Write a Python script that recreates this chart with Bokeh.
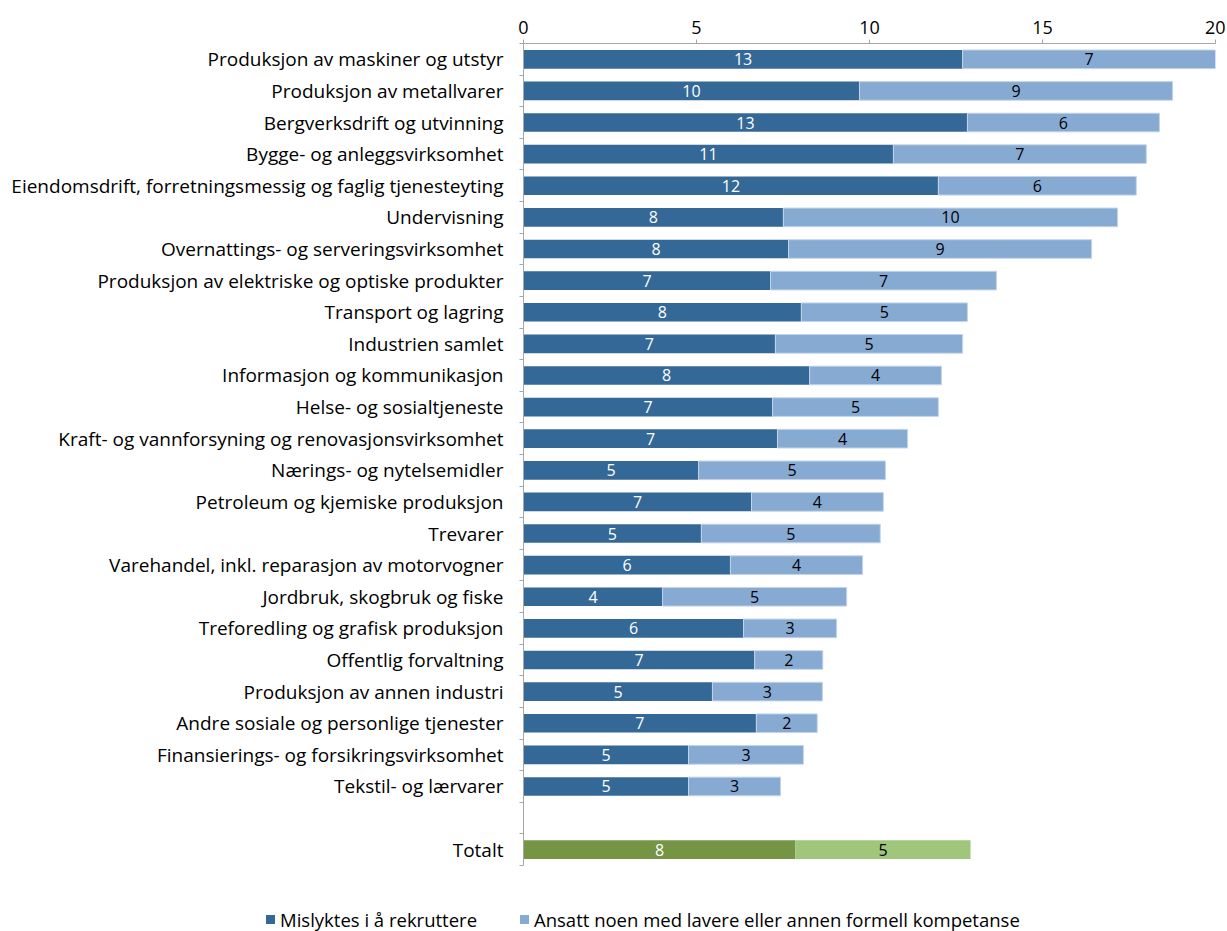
from bokeh.plotting import figure
from bokeh.layouts import column
from bokeh.models import Range1d, FixedTicker, ColumnDataSource, Div
from bokeh.core.properties import value
from bokeh.embed import file_html
from bokeh.resources import INLINE

categories = [
    "Produksjon av maskiner og utstyr",
    "Produksjon av metallvarer",
    "Bergverksdrift og utvinning",
    "Bygge- og anleggsvirksomhet",
    "Eiendomsdrift, forretningsmessig og faglig tjenesteyting",
    "Undervisning",
    "Overnattings- og serveringsvirksomhet",
    "Produksjon av elektriske og optiske produkter",
    "Transport og lagring",
    "Industrien samlet",
    "Informasjon og kommunikasjon",
    "Helse- og sosialtjeneste",
    "Kraft- og vannforsyning og renovasjonsvirksomhet",
    "Nærings- og nytelsemidler",
    "Petroleum og kjemiske produksjon",
    "Trevarer",
    "Varehandel, inkl. reparasjon av motorvogner",
    "Jordbruk, skogbruk og fiske",
    "Treforedling og grafisk produksjon",
    "Offentlig forvaltning",
    "Produksjon av annen industri",
    "Andre sosiale og personlige tjenester",
    "Finansierings- og forsikringsvirksomhet",
    "Tekstil- og lærvarer",
]
mislyktes = [12.69, 9.71, 12.83, 10.69, 11.99, 7.51, 7.66, 7.14, 8.03, 7.28, 8.27, 7.20,
             7.34, 5.06, 6.59, 5.14, 5.98, 4.02, 6.36, 6.68, 5.46, 6.73, 4.77, 4.77]
ansatt = [7.31, 9.05, 5.55, 7.31, 5.72, 9.66, 8.76, 6.53, 4.80, 5.41, 3.81, 4.79,
          3.76, 5.40, 3.81, 5.17, 3.82, 5.32, 2.69, 1.97, 3.18, 1.76, 3.32, 2.66]
total_label = "Totalt"
total_mislyktes = 7.86
total_ansatt = 5.06
series_names = ["Mislyktes i å rekruttere", "Ansatt noen med lavere eller annen formell kompetanse"]
x_ticks = [0, 5, 10, 15, 20]

FONT = "Open Sans"
DARK, LIGHT = "#346896", "#87aad3"
GDARK, GLIGHT = "#759444", "#a0c67b"

n = len(categories)
ys = list(range(n))
total_y = n + 1

p = figure(width=1225, height=875, output_backend="svg", toolbar_location=None,
           x_range=Range1d(0, 20), y_range=Range1d(total_y + 0.5, -0.5),
           x_axis_location="above",
           min_border_left=523, min_border_top=43, min_border_right=10,
           min_border_bottom=10)

def make_src(y, a, b):
    return ColumnDataSource(dict(
        y=y, a=a, b=b, tot=[u + v for u, v in zip(a, b)],
        am=[u / 2 for u in a], bm=[u + v / 2 for u, v in zip(a, b)],
        al=[str(round(u)) for u in a], bl=[str(round(v)) for v in b]))

src = make_src(ys, mislyktes, ansatt)
tsrc = make_src([total_y], [total_mislyktes], [total_ansatt])

H = 0.59
p.hbar(y="y", left=0, right="a", height=H, source=src, fill_color=DARK, line_color=None)
p.hbar(y="y", left="a", right="tot", height=H, source=src, fill_color=LIGHT, line_color="#c3d5ea", line_width=1)
p.hbar(y="y", left=0, right="a", height=H, source=tsrc, fill_color=GDARK, line_color=None)
p.hbar(y="y", left="a", right="tot", height=H, source=tsrc, fill_color=GLIGHT, line_color=None)

for s in (src, tsrc):
    p.text(x="am", y="y", text="al", source=s, text_align="center", text_baseline="middle",
           text_color="white", text_font=value(FONT), text_font_size="16px")
    p.text(x="bm", y="y", text="bl", source=s, text_align="center", text_baseline="middle",
           text_color="black", text_font=value(FONT), text_font_size="16px")

p.xgrid.visible = False
p.ygrid.visible = False
p.outline_line_color = None

xa = p.xaxis[0]
xa.ticker = FixedTicker(ticks=x_ticks)
xa.axis_line_color = "#a6a6a6"
xa.major_tick_line_color = "#a6a6a6"
xa.major_tick_out = 4
xa.major_tick_in = 0
xa.minor_tick_line_color = None
xa.major_label_text_font = FONT
xa.major_label_text_font_size = "18px"
xa.major_label_text_color = "black"
xa.major_label_standoff = 6

ya = p.yaxis[0]
ticks = ys + [total_y]
bounds = [t - 0.5 for t in range(total_y + 1)] + [total_y + 0.5]
ya.ticker = FixedTicker(ticks=ticks, minor_ticks=bounds)
ya.major_label_overrides = {**{i: c for i, c in zip(ys, categories)}, total_y: total_label}
ya.axis_line_color = "#a6a6a6"
ya.major_tick_line_color = None
ya.minor_tick_line_color = "#a6a6a6"
ya.minor_tick_out = 4
ya.minor_tick_in = 0
ya.major_label_text_font = FONT
ya.major_label_text_font_size = "19px"
ya.major_label_text_color = "black"
ya.major_label_standoff = 14

# legend strip below the chart (HTML, so it is not clipped by an aligned frame)
def item(x, color, label):
    return (f'<span style="position:absolute;left:{x}px;top:40px;width:9px;height:9px;'
            f'background:{color};"></span>'
            f'<span style="position:absolute;left:{x + 14}px;top:33px;line-height:24px;'
            f'white-space:nowrap;">{label}</span>')

html = ('<div style="position:relative;width:1225px;height:56px;'
        f"font-family:'{FONT}';font-size:18.5px;color:#000;\">"
        + item(266, DARK, series_names[0]) + item(520, LIGHT, series_names[1]) + '</div>')
legend_div = Div(text=html, width=1225, height=56, margin=(0, 0, 0, 0))

open("out.html", "w").write(file_html(column(p, legend_div, spacing=0), INLINE))
